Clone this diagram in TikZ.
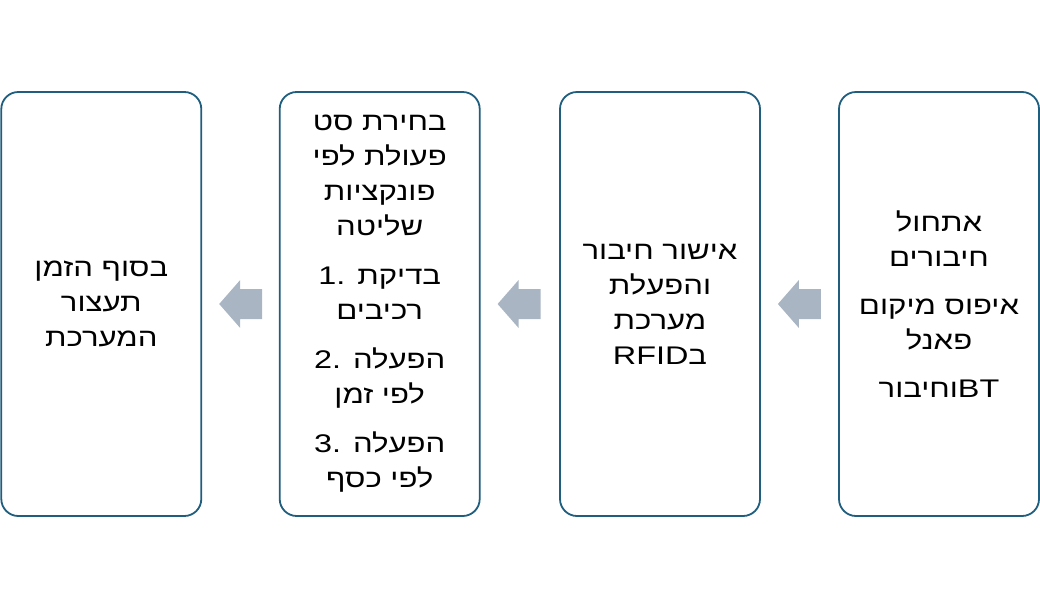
\documentclass[tikz,border=0pt]{standalone}
\usepackage{fontspec}
\setmainfont{Liberation Sans}[FakeStretch=1.27]
\newfontfamily\heb{Liberation Sans}[Script=Hebrew,FakeStretch=1.22]
\TeXXeTstate=1
\usetikzlibrary{calc}
\definecolor{boxline}{RGB}{31,94,126}
\definecolor{arrowfill}{RGB}{169,181,195}
\newcommand{\hb}[1]{{\heb\beginR #1\endR}}
\newcommand{\blockarrow}[1]{%
  \fill[arrowfill] (#1) -- ++(21,-24) -- ++(0,9) -- ++(22,0) -- ++(0,30)
    -- ++(-22,0) -- ++(0,9) -- cycle;}
\begin{document}
\begin{tikzpicture}[x=1pt,y=-1pt,
  stepbox/.style={draw=boxline, line width=1.8pt, fill=white,
    rounded corners=17pt, minimum width=200pt, minimum height=424pt,
    align=center, inner sep=0pt, text=black,
    font=\fontsize{25.5}{35}\selectfont}]
\useasboundingbox (0,0) rectangle (1040,608);
\node[stepbox] (b1) at (939,304) {%
  \hb{אתחול}\\ \hb{חיבורים}\\[13pt]
  \hb{איפוס מיקום}\\ \hb{פאנל}\\[13pt]
  \hb{וחיבור}BT};
\node[stepbox] (b2) at (660,304) {%
  \hb{אישור חיבור}\\ \hb{והפעלת}\\ \hb{מערכת}\\ RFID\hb{ב}};
\node[stepbox] (b3) at (379.7,304) {%
  \hb{בחירת סט}\\ \hb{פעולת לפי}\\ \hb{פונקציות}\\ \hb{שליטה}\\[14pt]
  1. \hb{בדיקת}\\ \hb{רכיבים}\\[14pt]
  2. \hb{הפעלה}\\ \hb{לפי זמן}\\[14pt]
  3. \hb{הפעלה}\\ \hb{לפי כסף}};
\node[stepbox] (b4) at (101.3,304) {%
  \hb{בסוף הזמן}\\ \hb{תעצור}\\ \hb{המערכת}};
\coordinate (t1) at ($(b2.east)+(17,0)$);
\coordinate (t2) at ($(b3.east)+(17,0)$);
\coordinate (t3) at ($(b4.east)+(17,0)$);
\blockarrow{t1}
\blockarrow{t2}
\blockarrow{t3}
\end{tikzpicture}
\end{document}
